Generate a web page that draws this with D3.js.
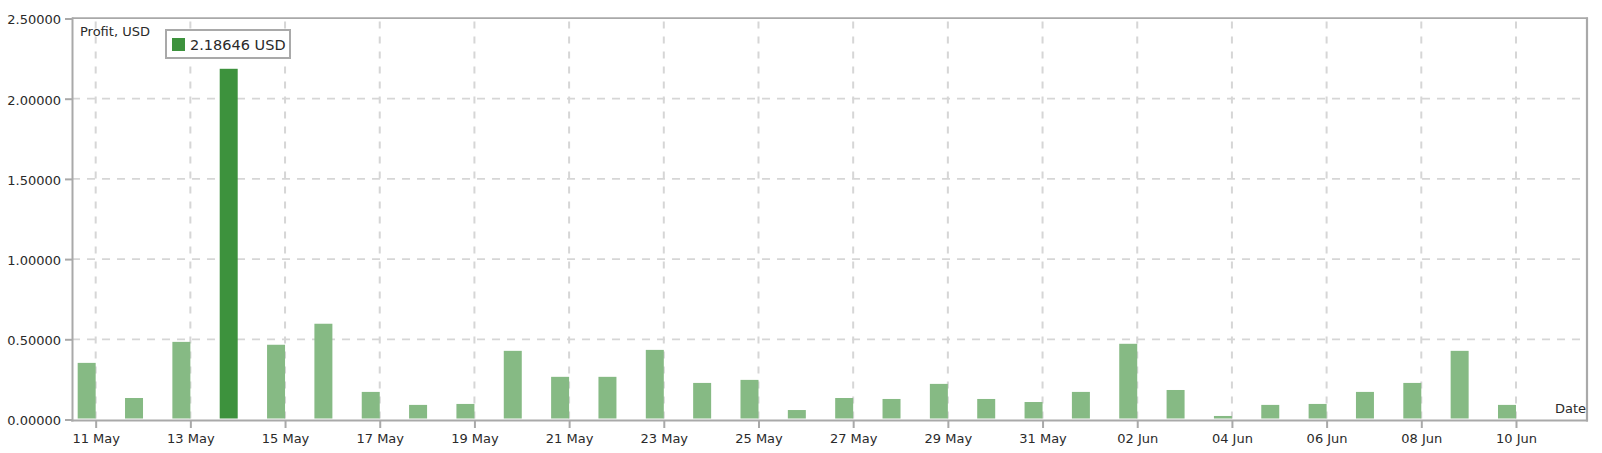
<!DOCTYPE html>
<html><head><meta charset="utf-8">
<script src="https://cdn.jsdelivr.net/npm/d3@7"></script>
<style>html,body{margin:0;padding:0;background:#fff;}svg{display:block;}</style>
</head><body>
<svg id="chart" width="1602" height="453"></svg>
<script>
// ---- data ----
const dates = ["2024-05-11","2024-05-12","2024-05-13","2024-05-14","2024-05-15","2024-05-16","2024-05-17",
  "2024-05-18","2024-05-19","2024-05-20","2024-05-21","2024-05-22","2024-05-23","2024-05-24","2024-05-25",
  "2024-05-26","2024-05-27","2024-05-28","2024-05-29","2024-05-30","2024-05-31","2024-06-01","2024-06-02",
  "2024-06-03","2024-06-04","2024-06-05","2024-06-06","2024-06-07","2024-06-08","2024-06-09","2024-06-10"];
const profit = [0.353,0.134,0.484,2.18646,0.466,0.597,0.172,
  0.091,0.097,0.428,0.266,0.266,0.434,0.228,0.247,
  0.059,0.134,0.128,0.222,0.128,0.109,0.172,0.472,
  0.184,0.022,0.091,0.097,0.172,0.228,0.428,0.091];
const yTicks = [0, 0.5, 1, 1.5, 2, 2.5];
const xTickDates = ["2024-05-11","2024-05-13","2024-05-15","2024-05-17","2024-05-19","2024-05-21","2024-05-23",
  "2024-05-25","2024-05-27","2024-05-29","2024-05-31","2024-06-02","2024-06-04","2024-06-06","2024-06-08","2024-06-10"];
const highlightedDate = "2024-05-14";
const yTitle = "Profit, USD";
const xTitle = "Date";
const legendUnit = "USD";

// ---- layout ----
const parse = d3.timeParse("%Y-%m-%d");
const W = 1602, H = 453;
const L = 72, R = 1587, T = 18.5, B = 419.5;
const FONT = "'DejaVu Sans', Verdana, sans-serif";
const TXT = "#2a2a2a";
const FRAME = "#a9a9a9";
const GRID = "#d6d6d6";

const svg = d3.select("#chart");
const first = parse(dates[0]);
const last = parse(dates[dates.length-1]);
const x = d3.scaleTime()
  .domain([d3.timeHour.offset(first, -12), d3.timeHour.offset(last, 36)])
  .range([L, R]);
const y = d3.scaleLinear().domain([0, 2.5]).range([B, T]);
const dayW = x(d3.timeDay.offset(first, 1)) - x(first);
const barW = dayW * 0.38;

// gridlines
const g = svg.append("g");
g.selectAll("line.h").data(yTicks.filter(v => v > 0 && v < 2.5)).enter().append("line")
  .attr("x1", L).attr("x2", R).attr("y1", d => y(d)).attr("y2", d => y(d))
  .attr("stroke", GRID).attr("stroke-width", 1.7).attr("stroke-dasharray", "8,7");
g.selectAll("line.v").data(xTickDates.map(parse)).enter().append("line")
  .attr("x1", d => x(d)).attr("x2", d => x(d)).attr("y1", T + 3).attr("y2", B)
  .attr("stroke", GRID).attr("stroke-width", 2).attr("stroke-dasharray", "7,8");

// bars
svg.append("g").selectAll("rect").data(dates.map((d, i) => ({d: parse(d), key: d, v: profit[i]})))
  .enter().append("rect")
  .attr("x", d => x(d.d) - barW)
  .attr("width", barW)
  .attr("y", d => y(d.v))
  .attr("height", d => y(0) - 1 - y(d.v))
  .attr("fill", d => d.key === highlightedDate ? "#3d923d" : "#86ba84");

// frame top/right
svg.append("line").attr("x1", L).attr("x2", R + 1).attr("y1", T - 0.3).attr("y2", T - 0.3)
  .attr("stroke", FRAME).attr("stroke-width", 1.7);
svg.append("line").attr("x1", R).attr("x2", R).attr("y1", T - 1).attr("y2", B + 2)
  .attr("stroke", FRAME).attr("stroke-width", 2.2);

// axes
const yAxis = svg.append("g").attr("transform", `translate(${L},0)`)
  .call(d3.axisLeft(y).tickValues(yTicks).tickFormat(d3.format(".5f")).tickSize(7).tickSizeOuter(0).tickPadding(4));
const xAxis = svg.append("g").attr("transform", `translate(0,${B + 0.5})`)
  .call(d3.axisBottom(x).tickValues(xTickDates.map(parse)).tickFormat(d3.timeFormat("%d %b")).tickSize(8).tickSizeOuter(0).tickPadding(6));
[yAxis, xAxis].forEach(a => {
  a.select(".domain").attr("stroke", FRAME).attr("stroke-width", 2);
  a.selectAll(".tick line").attr("stroke", FRAME).attr("stroke-width", 2);
  a.selectAll(".tick text").attr("fill", TXT).style("font-family", FONT).style("font-size", "13px");
});
yAxis.selectAll(".tick text").attr("dy", "0.42em");
xAxis.select(".domain").attr("d", `M${L - 1},0.5H${R + 1}`);
yAxis.select(".domain").attr("d", `M0.5,${T - 1}V${B + 2}`);

// titles
svg.append("text").attr("x", L + 8).attr("y", 36).text(yTitle)
  .attr("fill", TXT).style("font-family", FONT).style("font-size", "13px");
svg.append("text").attr("x", R - 1).attr("y", 413).attr("text-anchor", "end").text(xTitle)
  .attr("fill", TXT).style("font-family", FONT).style("font-size", "13px");

// legend / tooltip
const hIdx = dates.indexOf(highlightedDate);
const lg = svg.append("g");
lg.append("rect").attr("x", 166).attr("y", 30).attr("width", 124).attr("height", 28)
  .attr("fill", "#fff").attr("stroke", FRAME).attr("stroke-width", 2);
lg.append("rect").attr("x", 172).attr("y", 38).attr("width", 13).attr("height", 13).attr("fill", "#3d923d");
lg.append("text").attr("x", 190).attr("y", 49.5)
  .text(d3.format(".5f")(profit[hIdx]) + " " + legendUnit)
  .attr("fill", TXT).style("font-family", FONT).style("font-size", "14.5px");
</script>
</body></html>
